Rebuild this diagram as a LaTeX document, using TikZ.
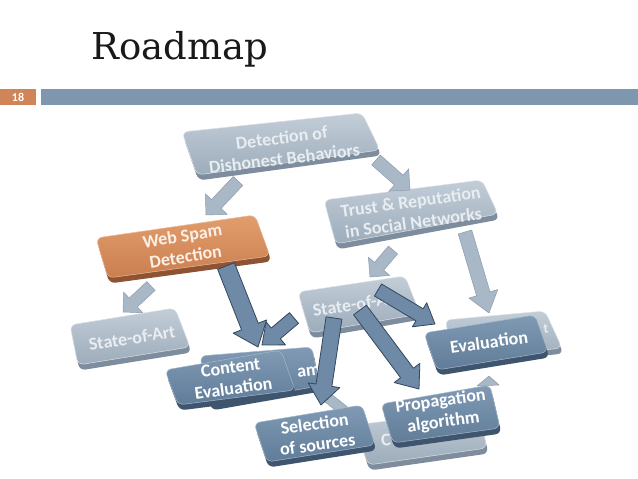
\documentclass[tikz,border=0pt]{standalone}
\usepackage{fontspec}
\newfontfamily\titlefont{DejaVu Serif}
\newfontfamily\cf{Carlito}
\usetikzlibrary{calc}
\definecolor{barblue}{HTML}{7E97AF}
\definecolor{barorange}{HTML}{CF8557}
\definecolor{gtop}{HTML}{C2CDD7}
\definecolor{gbot}{HTML}{9DACBA}
\definecolor{gedge}{HTML}{7D8D9D}
\definecolor{btop}{HTML}{809AB4}
\definecolor{bbot}{HTML}{607C98}
\definecolor{bedge}{HTML}{3E556D}
\definecolor{otop}{HTML}{E29E6E}
\definecolor{obot}{HTML}{CA7E4E}
\definecolor{oedge}{HTML}{8E5332}
\definecolor{gtext}{HTML}{E8EDF2}
\definecolor{otext}{HTML}{FBEFE6}
\definecolor{garfill}{HTML}{A9B8C6}
\definecolor{garline}{HTML}{8A9AAA}
\definecolor{barfill}{HTML}{6E8AA7}
\definecolor{barline}{HTML}{33475D}
% slab: four corners, edge colour, face style
\newcommand\slab[6]{%
  \fill[#5, rounded corners=6pt, shift={(1.5,5.5)}] #1 -- #2 -- #3 -- #4 -- cycle;
  \shade[#6, rounded corners=6pt] #1 -- #2 -- #3 -- #4 -- cycle;
}
% block arrow: start, tip, half shaft, half head, head length, style
\newcommand\blockarr[6]{%
  \coordinate (hb) at ($(#2)!#5!(#1)$);
  \filldraw[#6] ($(#1)!#3!90:(#2)$) -- ($(hb)!#3!90:(#2)$) -- ($(hb)!#4!90:(#2)$)
    -- (#2) -- ($(hb)!#4!-90:(#2)$) -- ($(hb)!#3!-90:(#2)$) -- ($(#1)!#3!-90:(#2)$) -- cycle;
}
\begin{document}
\begin{tikzpicture}[x=1pt,y=-1pt,
  gface/.style={top color=gtop, bottom color=gbot, draw=gtop!60!white, line width=0.5pt},
  bface/.style={top color=btop, bottom color=bbot, draw=btop!70!white, line width=0.5pt},
  oface/.style={top color=otop, bottom color=obot, draw=otop!70!white, line width=0.5pt},
  lbl/.style={font=\cf\bfseries\fontsize{18}{21}\selectfont, align=center, inner sep=0pt},
  gtxt/.style={lbl, text=gtext},
  btxt/.style={lbl, text=white},
  otxt/.style={lbl, text=otext},
  garrow/.style={fill=garfill, draw=garline, line width=0.5pt, line join=round},
  barrow/.style={fill=barfill, draw=barline, line width=0.8pt, line join=round}]
\useasboundingbox (0,0) rectangle (638,479);
\fill[white] (0,0) rectangle (638,479);

% header
\node[anchor=base west, inner sep=0pt, text=black!90, font=\titlefont\fontsize{37}{40}\selectfont] (title) at (91,59) {Roadmap};
\fill[barorange] (0,89) rectangle (36,105);
\node[text=white, font=\cf\bfseries\fontsize{12}{12}\selectfont, inner sep=0pt] (page) at (18,97) {18};
\fill[barblue] (41,89) rectangle (638,105);

% arrow end points
\coordinate (a1s) at (238,181); \coordinate (a1t) at (206,215);
\coordinate (a2s) at (376,160); \coordinate (a2t) at (410,190);
\coordinate (a3s) at (393,250); \coordinate (a3t) at (370,277);
\coordinate (a4s) at (465,232); \coordinate (a4t) at (489,313);
\coordinate (a7s) at (151,286); \coordinate (a7t) at (123,312);
\coordinate (h1s) at (318,390); \coordinate (h1t) at (366,428);
\coordinate (b5s) at (226,266); \coordinate (b5t) at (258,347);
\coordinate (b6s) at (294,318); \coordinate (b6t) at (262,345);
\coordinate (b8s) at (378,290); \coordinate (b8t) at (435,324);
\coordinate (b9s) at (334,318); \coordinate (b9t) at (321,405);
\coordinate (b10s) at (360,310); \coordinate (b10t) at (419,389);

% hidden gray arrow parts
\blockarr{h1s}{h1t}{5pt}{12pt}{14pt}{garrow}
\filldraw[garrow] (477,386) -- (489,376) -- (499,385) -- cycle;

% back boxes
\slab{(355,425)}{(478,410)}{(487,448)}{(368,465)}{gedge}{gface}
\node[gtxt, rotate=7] (cback) at (386,440) {C};
\slab{(200,356)}{(312,347)}{(319,386)}{(210,405)}{bedge}{bface}
\node[btxt, rotate=7] (amback) at (309,372) {am};
\slab{(445,320)}{(545,311)}{(562,348)}{(455,360)}{gedge}{gface}
\node[gtxt, rotate=8, font=\cf\bfseries\fontsize{14}{14}\selectfont] (tback) at (546,329) {t};

% gray level boxes
\slab{(182,132)}{(362,113)}{(380,150)}{(197,175)}{gedge}{gface}
\node[gtxt, rotate=7] (dish) at (283,148) {Detection of\\Dishonest Behaviors};
\slab{(324,200)}{(482,180)}{(498,214)}{(336,244)}{gedge}{gface}
\node[gtxt, rotate=8] (trust) at (412,212) {Trust \& Reputation\\in Social Networks};
\slab{(96,238)}{(255,215)}{(270,256)}{(108,278)}{oedge}{oface}
\node[otxt, rotate=9] (web) at (184,246) {Web Spam\\Detection};
\slab{(70,325)}{(175,308)}{(190,347)}{(78,365)}{gedge}{gface}
\node[gtxt, rotate=9] (soaL) at (132,338) {State-of-Art};
\slab{(298,292)}{(405,276)}{(420,314)}{(310,333)}{gedge}{gface}
\node[gtxt, rotate=9] (soaM) at (356,304) {State-of-Art};

% gray arrows
\blockarr{a1s}{a1t}{6.5pt}{15pt}{15pt}{garrow}
\blockarr{a2s}{a2t}{6.5pt}{15pt}{15pt}{garrow}
\blockarr{a3s}{a3t}{6pt}{14pt}{14pt}{garrow}
\blockarr{a4s}{a4t}{7pt}{15pt}{20pt}{garrow}
\blockarr{a7s}{a7t}{6pt}{14pt}{14pt}{garrow}

% front blue boxes
\slab{(165,370)}{(281,350)}{(295,390)}{(178,405)}{bedge}{bface}
\node[btxt, rotate=8] (content) at (232,378) {Content\\Evaluation};
\slab{(424,333)}{(535,315)}{(548,352)}{(437,370)}{bedge}{bface}
\node[btxt, rotate=8] (eval) at (489,342) {Evaluation};
\slab{(254,423)}{(362,405)}{(375,445)}{(267,462)}{bedge}{bface}
\node[btxt, rotate=8] (select) at (316,434) {Selection\\of sources};
\slab{(381,404)}{(490,385)}{(500,428)}{(393,443)}{bedge}{bface}
\node[btxt, rotate=8] (prop) at (442,412) {Propagation\\algorithm};

% blue arrows
\blockarr{b5s}{b5t}{9pt}{18pt}{22pt}{barrow}
\blockarr{b6s}{b6t}{7pt}{15pt}{18pt}{barrow}
\blockarr{b8s}{b8t}{7pt}{14pt}{18pt}{barrow}
\blockarr{b9s}{b9t}{8pt}{16pt}{20pt}{barrow}
\blockarr{b10s}{b10t}{8pt}{16pt}{20pt}{barrow}
\end{tikzpicture}
\end{document}
